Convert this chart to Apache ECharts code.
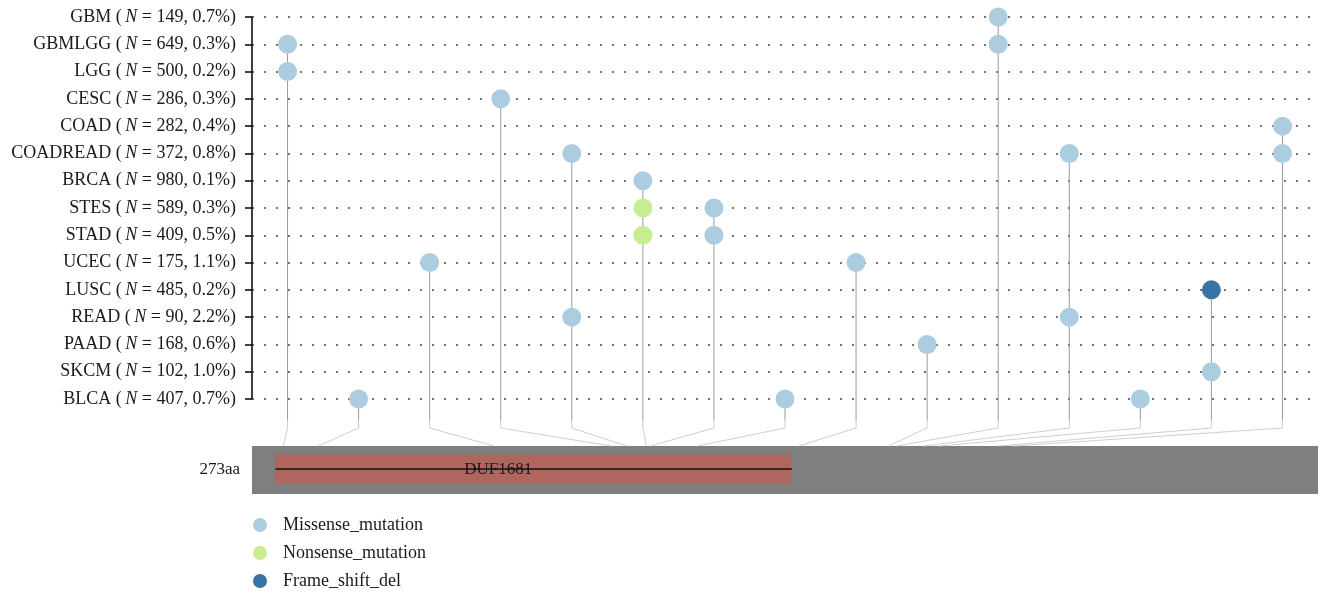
<!DOCTYPE html>
<html>
<head>
<meta charset="utf-8">
<script src="https://cdn.jsdelivr.net/npm/echarts@6/dist/echarts.min.js"></script>
<style>
  html, body { margin: 0; padding: 0; background: #fff; }
  #chart { width: 1327px; height: 595px; }
</style>
</head>
<body>
<div id="chart"></div>
<script>
// Cancer cohorts (top to bottom), cohort sizes and mutation frequencies
const cancers = ['GBM', 'GBMLGG', 'LGG', 'CESC', 'COAD', 'COADREAD', 'BRCA', 'STES',
                 'STAD', 'UCEC', 'LUSC', 'READ', 'PAAD', 'SKCM', 'BLCA'];
const sampleSizes = [149, 649, 500, 286, 282, 372, 980, 589, 409, 175, 485, 90, 168, 102, 407];
const mutationRates = ['0.7', '0.3', '0.2', '0.3', '0.4', '0.8', '0.1', '0.3', '0.5', '1.1',
                       '0.2', '2.2', '0.6', '1.0', '0.7'];

// Mutated residues (amino-acid positions), one lollipop column each
const aaPositions = [8, 17, 62, 92, 96, 101, 102, 114, 140, 163, 165, 172, 176, 191, 195];

// Protein and domain
const proteinLength = 273;
const domainName = 'DUF1681';
const domainStart = 6;
const domainEnd = 138;

// Mutations per class: [residue, cohort]
const missense = [
  [8, 'GBMLGG'], [8, 'LGG'], [17, 'BLCA'], [62, 'UCEC'], [92, 'CESC'],
  [96, 'COADREAD'], [96, 'READ'], [101, 'BRCA'], [102, 'STES'], [102, 'STAD'],
  [114, 'BLCA'], [140, 'UCEC'], [163, 'PAAD'], [165, 'GBM'], [165, 'GBMLGG'],
  [172, 'COADREAD'], [172, 'READ'], [176, 'BLCA'], [191, 'SKCM'],
  [195, 'COAD'], [195, 'COADREAD']
];
const nonsense = [[101, 'STES'], [101, 'STAD']];
const frameShiftDel = [[191, 'LUSC']];

const SERIF = '"Liberation Serif", "DejaVu Serif", serif';
const TEXT_COLOR = '#1a1a1a';
const FONT_SIZE = 18;

// Topmost cohort hit at each residue, where its stem starts
const allMutations = missense.concat(nonsense, frameShiftDel);
const stemData = aaPositions.map(pos => {
  let top = cancers.length - 1;
  allMutations.forEach(([p, c]) => {
    if (p === pos) top = Math.min(top, cancers.indexOf(c));
  });
  return [String(pos), cancers[top]];
});

const toPoints = list => list.map(([p, c]) => [String(p), c]);

const chart = echarts.init(document.getElementById('chart'), null, { renderer: 'canvas' });

const dotSeries = (name, color, list) => ({
  name, type: 'scatter', xAxisIndex: 0, yAxisIndex: 0, z: 3,
  symbol: 'circle', symbolSize: 19,
  itemStyle: { color, opacity: 1 },
  emphasis: { disabled: true },
  data: toPoints(list)
});

chart.setOption({
  animation: false,
  backgroundColor: '#ffffff',
  grid: [
    { left: 252, top: 17, width: 1066, height: 382 },
    { left: 252, top: 446, width: 1066, height: 48 }
  ],
  xAxis: [
    {
      gridIndex: 0, type: 'category', data: aaPositions.map(String), boundaryGap: true,
      axisLine: { show: false }, axisTick: { show: false }, axisLabel: { show: false },
      splitLine: { show: false }
    },
    {
      gridIndex: 1, type: 'value', min: 0, max: proteinLength,
      axisLine: { show: false }, axisTick: { show: false }, axisLabel: { show: false },
      splitLine: { show: false }
    }
  ],
  yAxis: [
    {
      gridIndex: 0, type: 'category', data: cancers, inverse: true, boundaryGap: false,
      axisLine: { show: true, lineStyle: { color: '#111', width: 1.6 } },
      axisTick: { show: true, length: 7, lineStyle: { color: '#111', width: 1.6 } },
      axisLabel: {
        margin: 16,
        fontFamily: SERIF, fontSize: FONT_SIZE, color: TEXT_COLOR,
        formatter: (name, idx) =>
          name + ' (\u2009{it|N} = ' + sampleSizes[idx] + ', ' + mutationRates[idx] + '%)',
        rich: {
          it: { fontFamily: SERIF, fontSize: FONT_SIZE, fontStyle: 'italic', color: TEXT_COLOR }
        }
      },
      splitLine: {
        show: true,
        lineStyle: { color: '#4a4a4a', width: 1.6, type: [2, 10] }
      }
    },
    {
      gridIndex: 1, type: 'category', data: [proteinLength + 'aa'],
      axisLine: { show: false }, axisTick: { show: false },
      axisLabel: { margin: 12, fontFamily: SERIF, fontSize: 17, color: TEXT_COLOR },
      splitLine: { show: false }
    }
  ],
  legend: {
    orient: 'vertical',
    left: 253, top: 516,
    padding: 0,
    itemWidth: 36, itemHeight: 14, itemGap: 10,
    icon: 'circle',
    selectedMode: false,
    data: ['Missense_mutation', 'Nonsense_mutation', 'Frame_shift_del'],
    textStyle: { fontFamily: SERIF, fontSize: 18, color: TEXT_COLOR }
  },
  series: [
    // Stems from the topmost hit of each residue down towards the protein
    {
      type: 'custom', xAxisIndex: 0, yAxisIndex: 0, z: 1, silent: true,
      data: stemData, encode: { x: 0, y: 1 },
      renderItem: (params, api) => {
        const top = api.coord([api.value(0), api.value(1)]);
        const bottom = api.coord([api.value(0), cancers.length - 1]);
        return {
          type: 'line',
          shape: { x1: top[0], y1: top[1], x2: top[0], y2: bottom[1] + 21 },
          style: { stroke: '#9a9a9a', lineWidth: 1 }
        };
      }
    },
    // Protein backbone and domain
    {
      type: 'custom', xAxisIndex: 1, yAxisIndex: 1, z: 1, silent: true,
      data: [[0, proteinLength, 0]], encode: { x: [0, 1], y: 2 },
      renderItem: (params, api) => {
        const a = api.coord([api.value(0), api.value(2)]);
        const b = api.coord([api.value(1), api.value(2)]);
        const h = api.size([0, 1])[1];
        return {
          type: 'rect',
          shape: { x: a[0], y: a[1] - h / 2, width: b[0] - a[0], height: h },
          style: { fill: '#7f7f7f' }
        };
      }
    },
    {
      type: 'custom', xAxisIndex: 1, yAxisIndex: 1, z: 2, silent: true,
      data: [[domainStart, domainEnd, 0, domainName]], encode: { x: [0, 1], y: 2 },
      renderItem: (params, api) => {
        const a = api.coord([api.value(0), api.value(2)]);
        const b = api.coord([api.value(1), api.value(2)]);
        const h = api.size([0, 1])[1] * 0.6;
        const cy = a[1] - 1;
        return {
          type: 'group',
          children: [
            {
              type: 'rect',
              shape: { x: a[0], y: cy - h / 2, width: b[0] - a[0], height: h },
              style: { fill: '#ae665f' }
            },
            {
              type: 'text',
              style: {
                x: (a[0] + b[0]) / 2 - 35, y: cy + 1,
                text: domainName, align: 'center', verticalAlign: 'middle',
                font: '17px ' + SERIF, fill: TEXT_COLOR
              }
            },
            {
              type: 'line',
              shape: { x1: a[0], y1: cy, x2: b[0] + 1, y2: cy },
              style: { stroke: '#111', lineWidth: 1.5 }
            }
          ]
        };
      }
    },
    // Connectors from each lollipop column to its residue on the protein
    {
      type: 'custom', xAxisIndex: 1, yAxisIndex: 1, z: 1, silent: true,
      data: aaPositions.map((p, i) => [p, 0, i]), encode: { x: 0, y: 1 },
      renderItem: (params, api) => {
        const n = aaPositions.length;
        const colValue = (api.value(2) + 0.5) * proteinLength / n;
        const c = api.coord([colValue, 0]);
        const e = api.coord([api.value(0), 0]);
        const barTop = c[1] - api.size([0, 1])[1] / 2;
        return {
          type: 'polyline',
          shape: { points: [[c[0], barTop - 26], [c[0], barTop - 18], [e[0], barTop]] },
          style: { stroke: '#cfcfcf', lineWidth: 1, fill: null }
        };
      }
    },
    dotSeries('Missense_mutation', '#abcddf', missense),
    dotSeries('Nonsense_mutation', '#c8ec90', nonsense),
    dotSeries('Frame_shift_del', '#3873a8', frameShiftDel)
  ]
});
</script>
</body>
</html>
